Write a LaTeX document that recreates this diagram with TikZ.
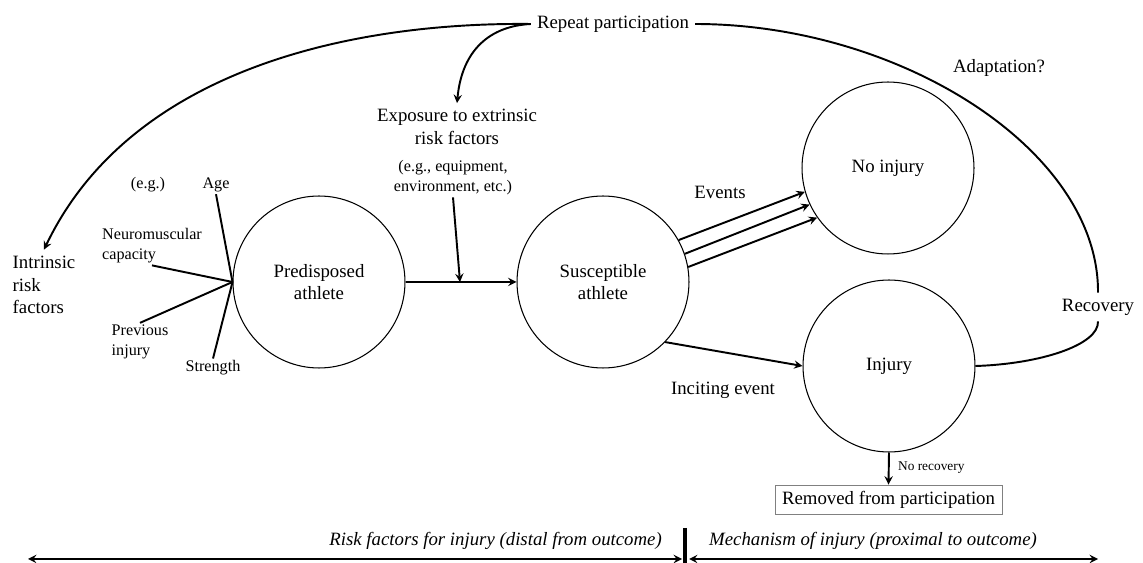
\documentclass[tikz,border=0pt]{standalone}
\usepackage{fontspec}
\setmainfont{Liberation Serif}
\newfontfamily\diagfont{Liberation Serif}
\usepackage{tikz}
\usetikzlibrary{calc}

\tikzset{
	every node/.style={font=\diagfont\fontsize{10.7}{13}\selectfont, align=center},
	sm/.style={font=\diagfont\fontsize{9.2}{11.3}\selectfont, inner sep=1pt},
	note/.style={font=\diagfont\fontsize{7.6}{9}\selectfont, inner sep=1pt},
	stage/.style={draw, circle, line width=0.6pt, minimum size=3.44cm, inner sep=0pt},
	conn/.style={line width=1.1pt},
}

\begin{document}
\begin{tikzpicture}[x=0.02cm, y=-0.02cm]
			\useasboundingbox (0,0) rectangle (1143,563);

			\node[stage] (pre) at (319,282) {Predisposed\\athlete};
			\node[stage] (sus) at (603,282) {Susceptible\\athlete};
			\node[stage] (noinj) at (888,168) {No injury};
			\node[stage] (inj) at (889,366) {Injury};

			\node (rep) at (613,24) {Repeat participation};
			\node[align=left] (intr) at (44,285) {Intrinsic\\risk\\factors};
			\node (expo) at (457,127) {Exposure to extrinsic\\risk factors};
			\node[sm] (eg2) at (453,178) {(e.g., equipment,\\environment, etc.)};
			\node (adapt) at (999,68) {Adaptation?};
			\node (rec) at (1098,307) {Recovery};
			\node (events) at (720,192) {Events};
			\node (incite) at (723,390) {Inciting event};

			\node[sm] (eg) at (148,185) {(e.g.)};
			\node[sm] (age) at (216,185) {Age};
			\node[sm, align=left] (neuro) at (152,246) {Neuromuscular\\capacity};
			\node[sm, align=left] (prev) at (140,342) {Previous\\injury};
			\node[sm] (strength) at (213,368) {Strength};

			\node[draw=gray, line width=0.5pt, inner xsep=4pt, minimum height=0.54cm] (rem) at (888.5,499.5) {Removed from participation};
			\node[note, anchor=west] (norec) at (896,468) {No recovery};

			\node[anchor=east] (distal) at (668,541) {\itshape Risk factors for injury (distal from outcome)};
			\node[anchor=west] (proximal) at (703,541) {\itshape Mechanism of injury (proximal to outcome)};

			\coordinate (join) at (460,282);
			\coordinate (barTop) at (685,528);
			\coordinate (barBot) at (685,563);
			\coordinate (farLeft) at (28,559);
			\coordinate (midLeft) at (682,559);
			\coordinate (midRight) at (689,559);
			\coordinate (farRight) at (1098,559);

			\foreach \f in {age.south, neuro.south, prev.north, strength.north}
			{
				\draw[conn] (pre.west) -- (\f);
			}

			\draw[conn] (rep.east) .. controls (900,24) and (1099,150) .. (rec.north);
			\draw[conn] (rec.south) .. controls (1099,345) and (1040,364) .. (inj.east);

			\begin{scope}[conn, -stealth]
				\draw (rep.west) .. controls (350,22) and (130,70) .. (intr.north);
				\draw (rep.west) .. controls (490,26) and (462,50) .. (expo.north);
				\draw (pre) -- (sus);
				\draw (eg2.south) -- (join);
				\foreach \a/\b in {29/196, 19.5/205, 10/215}
				{
					\draw (sus.\a) -- (noinj.\b);
				}
				\draw (sus.-44) -- (inj.west);
				\draw (inj.south) -- (rem.north);
				\draw[stealth-stealth] (farLeft) -- (midLeft);
				\draw[stealth-stealth] (midRight) -- (farRight);
			\end{scope}

			\draw[line width=2.5pt] (barTop) -- (barBot);
		\end{tikzpicture}
\end{document}
